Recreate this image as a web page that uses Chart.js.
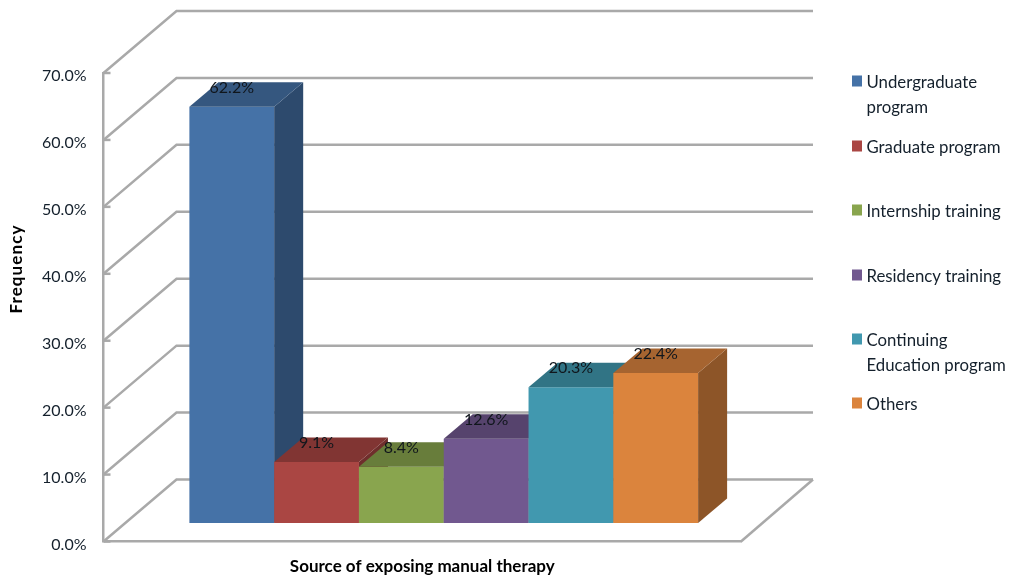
<!DOCTYPE html>
<html>
<head>
<meta charset="utf-8">
<title>Source of exposing manual therapy</title>
<script src="https://cdn.jsdelivr.net/npm/chart.js@4"></script>
<style>
  html, body { margin: 0; padding: 0; background: #ffffff; }
  canvas { display: block; }
</style>
</head>
<body>
<canvas id="chart" width="1011" height="582"></canvas>
<script>
// Survey results
const category = ['Source of exposing manual therapy'];
const sourceNames = ['Undergraduate program', 'Graduate program', 'Internship training',
                     'Residency training', 'Continuing Education program', 'Others'];
const frequencies = [62.2, 9.1, 8.4, 12.6, 20.3, 22.4];
const frontColors = ['#4572A7', '#AA4643', '#89A54E', '#71588F', '#4198AF', '#DB843D'];
const topColors   = ['#35577F', '#813533', '#687D3B', '#56436D', '#317485', '#A66430'];
const sideColors  = ['#2D4A6D', '#6F2E2C', '#59692F', '#49395C', '#2A6271', '#8D5528'];
const legendLines = [['Undergraduate', 'program'], ['Graduate program'], ['Internship training'],
                     ['Residency training'], ['Continuing', 'Education program'], ['Others']];
const legendMarkerY = [81, 146, 210, 275, 339, 403];
const yAxisTitle = 'Frequency';

const LINE = '#a9a9a9';
const TEXT = '#14202c';
const FONT = 'Lato, sans-serif';
const WALL = { dx: 73, dy: -62, right: 813 };   // offset of the back wall from the axis plane
const BAR_SHIFT = { dx: 21.5, dy: -18.5 };      // bars stand in the middle of the floor
const DEPTH = { dx: 29, dy: -24.5 };            // bar depth

function stroke(ctx, pts) {
  ctx.beginPath();
  pts.forEach(([x, y], i) => i ? ctx.lineTo(x, y) : ctx.moveTo(x, y));
  ctx.stroke();
}
function fillPoly(ctx, color, pts) {
  ctx.fillStyle = color;
  ctx.beginPath();
  pts.forEach(([x, y], i) => i ? ctx.lineTo(x, y) : ctx.moveTo(x, y));
  ctx.closePath();
  ctx.fill();
}

// Perspective walls, floor and the little inward ticks, then the bars with their depth faces
const wallPlugin = {
  id: 'wall',
  beforeDatasetsDraw(chart) {
    const { ctx, scales: { y, x } } = chart;
    const x0 = x.left;
    ctx.save();
    ctx.strokeStyle = LINE;
    ctx.lineWidth = 2.5;
    y.ticks.forEach(t => {
      const py = y.getPixelForValue(t.value);
      stroke(ctx, [[x0, py], [x0 + WALL.dx, py + WALL.dy], [WALL.right, py + WALL.dy]]);
      stroke(ctx, [[x0, py], [x0 + 7, py]]);
    });
    const py0 = y.getPixelForValue(0);
    stroke(ctx, [[x.right, py0], [x.right + WALL.dx - 1, py0 + WALL.dy]]);
    ctx.restore();
  },
  // the default paint order is last-to-first; the faces need first-to-last
  beforeDatasetDraw() { return false; },
  afterDatasetsDraw(chart) {
    const { ctx } = chart;
    const metas = chart.data.datasets.map((_, i) => chart.getDatasetMeta(i));
    ctx.save();
    ctx.translate(BAR_SHIFT.dx, BAR_SHIFT.dy);
    metas.forEach((meta, i) => {
      meta.controller.draw();
      meta.data.forEach(bar => {
        const l = bar.x - bar.width / 2, r = bar.x + bar.width / 2, t = bar.y, b = bar.base;
        fillPoly(ctx, sideColors[i], [[r, t], [r + DEPTH.dx, t + DEPTH.dy], [r + DEPTH.dx, b + DEPTH.dy], [r, b]]);
        fillPoly(ctx, topColors[i], [[l, t], [l + DEPTH.dx, t + DEPTH.dy], [r + DEPTH.dx, t + DEPTH.dy], [r, t]]);
      });
    });
    ctx.fillStyle = '#10161c';
    ctx.font = '16px ' + FONT;
    ctx.textAlign = 'center';
    ctx.textBaseline = 'middle';
    chart.data.datasets.forEach((ds, i) => {
      const bar = metas[i].data[0];
      ctx.fillText(ds.data[0].toFixed(1) + '%', bar.x, bar.y - 19);
    });
    ctx.restore();
  }
};

// Right-hand key with wrapped entries, plus the rotated value-axis title
const keyPlugin = {
  id: 'key',
  afterDraw(chart) {
    const { ctx } = chart;
    ctx.save();
    ctx.textBaseline = 'middle';
    ctx.textAlign = 'left';
    ctx.font = '16.8px ' + FONT;
    legendLines.forEach((lines, i) => {
      const cy = legendMarkerY[i];
      ctx.fillStyle = frontColors[i];
      ctx.fillRect(852, cy - 5.5, 10, 11);
      ctx.fillStyle = TEXT;
      lines.forEach((line, j) => ctx.fillText(line, 866.5, cy + 1.5 + j * 25.5));
    });
    ctx.translate(17, 269);
    ctx.rotate(-Math.PI / 2);
    ctx.textAlign = 'center';
    ctx.font = 'bold 17px ' + FONT;
    ctx.letterSpacing = '1.1px';
    ctx.fillStyle = '#000000';
    ctx.fillText(yAxisTitle, 0, 0);
    ctx.restore();
  }
};

new Chart(document.getElementById('chart'), {
  type: 'bar',
  data: {
    labels: category,
    datasets: sourceNames.map((name, i) => ({
      label: name,
      data: [frequencies[i]],
      backgroundColor: frontColors[i],
      clip: false
    }))
  },
  options: {
    responsive: false,
    animation: false,
    devicePixelRatio: 1,
    layout: { padding: { left: 0, top: 73, right: 270, bottom: 0 } },
    categoryPercentage: 0.798,
    barPercentage: 1,
    plugins: { legend: { display: false }, tooltip: { enabled: false }, title: { display: false } },
    scales: {
      x: {
        grid: { display: false, drawTicks: false },
        border: { display: true, color: LINE, width: 2.5 },
        ticks: { display: false },
        title: {
          display: true,
          text: category[0],
          color: '#000000',
          font: { family: FONT, size: 17, weight: 'bold' },
          padding: { top: 0, bottom: 5 }
        },
        afterFit(scale) { scale.height = 40.5; }
      },
      y: {
        min: 0,
        max: 70,
        grid: { display: false, drawTicks: false },
        border: { display: true, color: LINE, width: 2.5 },
        ticks: {
          stepSize: 10,
          padding: 17,
          labelOffset: 3,
          color: TEXT,
          font: { family: FONT, size: 16 },
          callback: v => v.toFixed(1) + '%'
        },
        afterFit(scale) { scale.width = 103.5; }
      }
    }
  },
  plugins: [wallPlugin, keyPlugin]
});
</script>
</body>
</html>
